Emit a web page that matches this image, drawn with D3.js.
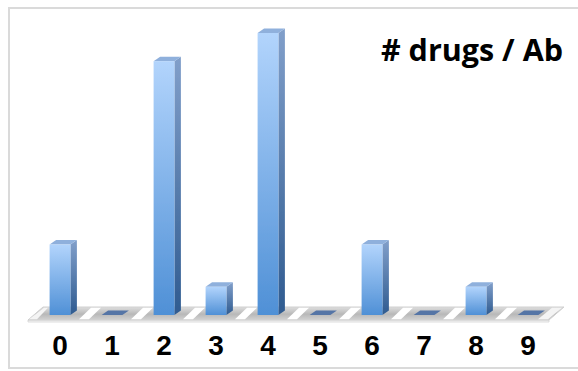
<!DOCTYPE html>
<html>
<head>
<meta charset="utf-8">
<script src="https://cdn.jsdelivr.net/npm/d3@7"></script>
<style>
  html, body { margin: 0; padding: 0; background: #fff; }
  svg { display: block; }
</style>
</head>
<body>
<svg id="chart" width="578" height="371"></svg>
<script>
// Distribution of drug-to-antibody ratio
const categories = ["0", "1", "2", "3", "4", "5", "6", "7", "8", "9"];
const values = [5, 0, 18, 2, 20, 0, 5, 0, 2, 0];
const title = "# drugs / Ab";

const svg = d3.select("#chart");
const W = 578, H = 371;

// pseudo-3D depth of each bar
const depthX = 6.5, depthY = 4.5;
const baseY = 315;

const x = d3.scaleBand()
  .domain(categories)
  .range([34, 554])
  .paddingInner(0.6)
  .paddingOuter(0.3);

const y = d3.scaleLinear()
  .domain([0, 20])
  .range([baseY, 33]);

const defs = svg.append("defs");

const gFront = defs.append("linearGradient").attr("id", "front")
  .attr("x1", 0).attr("y1", 0).attr("x2", 0).attr("y2", 1);
gFront.append("stop").attr("offset", "0%").attr("stop-color", "#b2d4fc");
gFront.append("stop").attr("offset", "100%").attr("stop-color", "#4f90d6");

const gSide = defs.append("linearGradient").attr("id", "side")
  .attr("x1", 0).attr("y1", 0).attr("x2", 0).attr("y2", 1);
gSide.append("stop").attr("offset", "0%").attr("stop-color", "#819fca");
gSide.append("stop").attr("offset", "100%").attr("stop-color", "#2f5b90");

const gFloor = defs.append("linearGradient").attr("id", "floor")
  .attr("x1", 0).attr("y1", 0).attr("x2", 0).attr("y2", 1);
gFloor.append("stop").attr("offset", "0%").attr("stop-color", "#dedede");
gFloor.append("stop").attr("offset", "55%").attr("stop-color", "#b8b8b8");
gFloor.append("stop").attr("offset", "100%").attr("stop-color", "#d2d2d2");

const soft = defs.append("filter").attr("id", "soft");
soft.append("feGaussianBlur").attr("stdDeviation", 0.5);

// outer frame
svg.append("rect")
  .attr("x", 9).attr("y", 8)
  .attr("width", W + 20).attr("height", 360)
  .attr("fill", "#fff")
  .attr("stroke", "#dadada")
  .attr("stroke-width", 2);

// floor of the 3D plot area
const floorFront = 320, floorBack = 307;
const xl = x.range()[0], xr = x.range()[1];
const floorPts = [[xl - 6, floorFront], [xr - 5, floorFront], [xr + 10, floorBack], [xl + 9, floorBack]];
const plot = svg.append("g").attr("filter", "url(#soft)");

// thin front edge of the floor slab
plot.append("path")
  .attr("d", d3.line()([[xl - 6, floorFront], [xr - 5, floorFront], [xr - 5, floorFront + 2], [xl - 6, floorFront + 2]]) + "Z")
  .attr("fill", "#f6f6f6")
  .attr("stroke", "#d4d4d4")
  .attr("stroke-width", 0.8);

plot.append("path")
  .attr("d", d3.line()(floorPts) + "Z")
  .attr("fill", "url(#floor)")
  .attr("stroke", "#d0d0d0")
  .attr("stroke-width", 1);

// light stripes at category boundaries on the floor
categories.forEach((c, i) => {
  if (i === 0) return;
  const bx = x(c) - x.step() * 0.3 + 2;
  plot.append("path")
    .attr("d", d3.line()([[bx - 9, floorFront - 0.8], [bx + 1, floorFront - 0.8], [bx + 13, floorBack + 0.8], [bx + 3, floorBack + 0.8]]) + "Z")
    .attr("fill", "#ffffff");
});
// light ends of the floor
plot.append("path")
  .attr("d", d3.line()([[xl - 5, floorFront - 0.8], [xl + 3, floorFront - 0.8], [xl + 14, floorBack + 0.8], [xl + 10, floorBack + 0.8]]) + "Z")
  .attr("fill", "#f4f4f4");
plot.append("path")
  .attr("d", d3.line()([[xr - 16, floorFront - 0.8], [xr - 6, floorFront - 0.8], [xr + 8, floorBack + 0.8], [xr - 2, floorBack + 0.8]]) + "Z")
  .attr("fill", "#f4f4f4");

// bars
const bars = plot.selectAll("g.bar")
  .data(categories.map((c, i) => ({ c, v: values[i] })))
  .join("g").attr("class", "bar");

bars.each(function (d) {
  const g = d3.select(this);
  const x0 = x(d.c), x1 = x0 + x.bandwidth();
  const yt = y(d.v);
  if (d.v === 0) {
    g.append("path")
      .attr("d", d3.line()([[x0, baseY], [x1, baseY], [x1 + depthX, baseY - depthY], [x0 + depthX, baseY - depthY]]) + "Z")
      .attr("fill", "#5574a6");
    return;
  }
  // side face
  g.append("path")
    .attr("d", d3.line()([[x1, yt], [x1 + depthX, yt - depthY], [x1 + depthX, baseY - depthY], [x1, baseY]]) + "Z")
    .attr("fill", "url(#side)");
  // top face
  g.append("path")
    .attr("d", d3.line()([[x0, yt], [x1, yt], [x1 + depthX, yt - depthY], [x0 + depthX, yt - depthY]]) + "Z")
    .attr("fill", "#8fb0dc");
  // front face
  g.append("rect")
    .attr("x", x0).attr("y", yt)
    .attr("width", x.bandwidth()).attr("height", baseY - yt)
    .attr("fill", "url(#front)");
});

// category labels
const axis = d3.axisBottom(x).tickSize(0).tickPadding(0);
const ax = svg.append("g").attr("transform", "translate(0,335)").call(axis);
ax.select(".domain").remove();
ax.selectAll("text")
  .attr("dy", 0).attr("y", 20)
  .attr("font-family", "'Liberation Sans', Arial, sans-serif")
  .attr("font-weight", "bold")
  .attr("font-size", 28)
  .attr("fill", "#000");

// title
svg.append("text")
  .attr("x", 563).attr("y", 61)
  .attr("text-anchor", "end")
  .attr("font-family", "'Open Sans', Lato, sans-serif")
  .attr("font-weight", 700)
  .attr("font-size", 30.5)
  .attr("fill", "#000")
  .text(title);
</script>
</body>
</html>
